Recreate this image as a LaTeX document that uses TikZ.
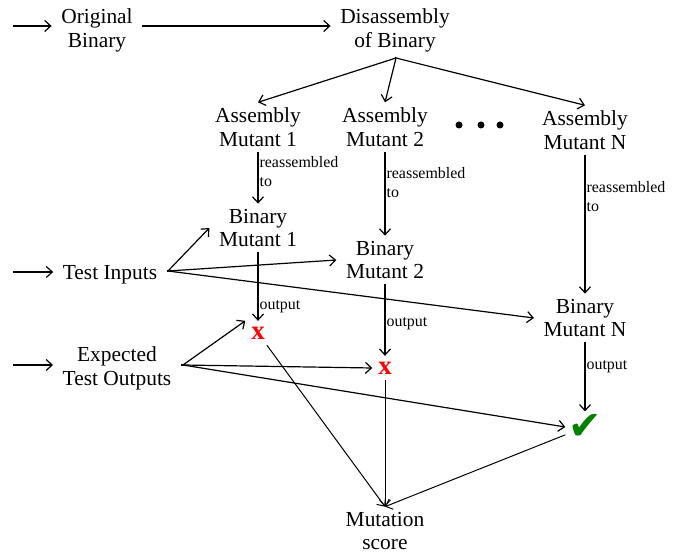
\documentclass[tikz,border=0pt]{standalone}
\usepackage{fontspec}
\setmainfont{Liberation Serif}
\newfontfamily\tickfont{DejaVu Sans}
\usetikzlibrary{arrows.meta}
\definecolor{tickgreen}{RGB}{0,128,0}
\begin{document}
\begin{tikzpicture}[x=10bp,y=10bp]

\tikzset{box/.style={align=center,font=\fontsize{21.5}{24}\selectfont,inner xsep=9.5bp,inner ysep=5bp},}
\tikzset{lbl/.style={align=left,font=\fontsize{16}{19}\selectfont,inner sep=1bp,right},}
\tikzset{cross/.style={text=red,font=\bfseries\fontsize{27}{27}\selectfont,inner sep=4bp,outer sep=2bp},}
\tikzset{tick/.style={text=tickgreen,font=\tickfont\fontsize{40}{40}\selectfont,inner sep=2bp,outer sep=1bp},}
\tikzset{arr/.style={-{Straight Barb[length=6bp,width=11bp]},line width=1.2bp},}
\tikzset{scorearr/.style={arr,line width=1bp},}

\useasboundingbox (0,0) rectangle (69,55.4);

%INPUTS
\coordinate (in1) at (1.3,52.8);
\coordinate (in2) at (1.3,28.2);
\coordinate (in3) at (1.3,18.9);
\draw (9.7,52.35) node [box] (orig) {Original\\Binary};
\draw (39.5,52.35) node [box] (dis) {Disassembly\\of Binary};
\draw (11.0,27.95) node [box] (tin) {Test Inputs};
\draw (11.7,18.6) node [box] (teo) {Expected\\Test Outputs};

%MUTANTS
\draw (25.8,42.7) node [box] (am1) {Assembly\\Mutant 1};
\draw (38.5,42.7) node [box] (am2) {Assembly\\Mutant 2};
\draw (58.5,42.4) node [box] (amN) {Assembly\\Mutant N};
\foreach \x in {45.9,48.1,50.0} \fill (\x,42.9) circle (0.35);

\draw (25.8,32.6) node [box] (bm1) {Binary\\Mutant 1};
\draw (38.5,29.4) node [box] (bm2) {Binary\\Mutant 2};
\draw (58.5,23.6) node [box] (bmN) {Binary\\Mutant N};

%RESULTS
\draw (25.8,22.1) node [cross] (x1) {x};
\draw (38.5,18.6) node [cross] (x2) {x};
\draw (58.5,12.7) node [tick] (ok) {\char"2714};
\draw (38.5,2.3) node [box] (ms) {Mutation\\score};

\coordinate (split) at (39.6,49.6);
\coordinate (tfan) at (16.8,28.3);
\coordinate (efan) at (18.3,18.9);

\draw[arr] (in1) -- (in1 -| orig.west);
\draw[arr] (in2) -- (in2 -| tin.west);
\draw[arr] (in3) -- (in3 -| teo.west);
\draw[arr] (orig.east |- in1) -- (dis.west |- in1);
\draw[line width=1.2bp] (dis.south) -- (split);
\draw[arr] (split) -- (am1.north);
\draw[arr] (split) -- (am2.north);
\draw[arr] (split) -- (amN.north);

\draw[arr] (am1) -- node [lbl,pos=.38] {reassembled\\to} (bm1);
\draw[arr] (am2) -- node [lbl,pos=.37] {reassembled\\to} (bm2);
\draw[arr] (amN) -- node [lbl,pos=.3] {reassembled\\to} (bmN);

\draw[line width=1.2bp] (tin.east |- tfan) -- (tfan);
\draw[arr] (tfan) -- (bm1.west);
\draw[arr] (tfan) -- (bm2.west);
\draw[arr] (tfan) -- (bmN.west);

\draw[arr] (bm1) -- node [lbl,pos=.8] {output} (x1);
\draw[arr] (bm2) -- node [lbl,pos=.55] {output} (x2);
\draw[arr] (bmN) -- node [lbl,pos=.35] {output} (ok);

\draw[line width=1.2bp] (teo.east |- efan) -- (efan);
\draw[arr] (efan) -- (x1.north west);
\draw[arr] (efan) -- (x2.west);
\draw[arr] (efan) -- (ok.west);

\draw[scorearr] (x1) -- (ms.north);
\draw[scorearr] (x2) -- (ms.north);
\draw[scorearr] (ok) -- (ms.north);

\end{tikzpicture}
\end{document}
